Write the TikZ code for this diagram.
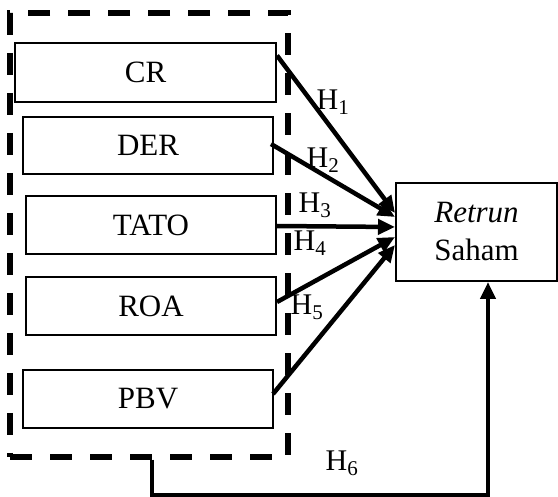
\documentclass[tikz,border=0pt]{standalone}
\usepackage{fontspec}
\setmainfont{Liberation Serif}
\usetikzlibrary{arrows.meta}
\begin{document}
\begin{tikzpicture}[x=1pt,y=-1pt,
  varbox/.style={draw,line width=2pt,inner sep=0pt,font=\fontsize{31}{36}\selectfont},
  grpbox/.style={draw,line width=5.5pt,dash pattern=on 22pt off 18pt,inner sep=0pt},
  hyp/.style={line width=4.5pt,-{Triangle[length=17pt,width=15pt]}},
  hlab/.style={inner sep=0pt,font=\fontsize{30}{34}\selectfont}]
\useasboundingbox (0,0) rectangle (558,497);
\node[grpbox,minimum width=278pt,minimum height=444pt] (grp) at (149,235) {};
\node[varbox,minimum width=261pt,minimum height=59pt] (cr) at (145.5,72.5) {CR};
\node[varbox,minimum width=250pt,minimum height=57pt] (der) at (148,145.5) {DER};
\node[varbox,minimum width=250pt,minimum height=58pt] (tato) at (151,225) {TATO};
\node[varbox,minimum width=250pt,minimum height=58pt] (roa) at (151,306) {ROA};
\node[varbox,minimum width=250pt,minimum height=58pt] (pbv) at (148,399) {PBV};
\node[varbox,minimum width=161pt,minimum height=98pt,align=center,font=\fontsize{31}{38}\selectfont] (ret) at (476.5,232) {\textit{Retrun}\\Saham};
\coordinate (fbc) at (488,495);
\draw[hyp] ([yshift=17pt]cr.east) -- ([yshift=19pt]ret.west);
\draw[hyp] ([yshift=1.5pt,xshift=-3pt]der.east) -- ([yshift=15pt]ret.west);
\draw[hyp] ([yshift=-1pt]tato.east) -- ([yshift=5pt]ret.west);
\draw[hyp] ([yshift=4pt]roa.east) -- ([yshift=-5pt]ret.west);
\draw[hyp] ([yshift=5pt,xshift=-1pt]pbv.east) -- ([yshift=-13pt]ret.west);
\draw[hyp] ([xshift=3pt]grp.south) |- (fbc) -- (fbc|-ret.south);
\node[hlab] (h1) at (333,102) {H\textsubscript{1}};
\node[hlab] (h2) at (323,160) {H\textsubscript{2}};
\node[hlab] (h3) at (315,205) {H\textsubscript{3}};
\node[hlab] (h4) at (310,243) {H\textsubscript{4}};
\node[hlab] (h5) at (307,307) {H\textsubscript{5}};
\node[hlab] (h6) at (342,463) {H\textsubscript{6}};
\end{tikzpicture}
\end{document}
